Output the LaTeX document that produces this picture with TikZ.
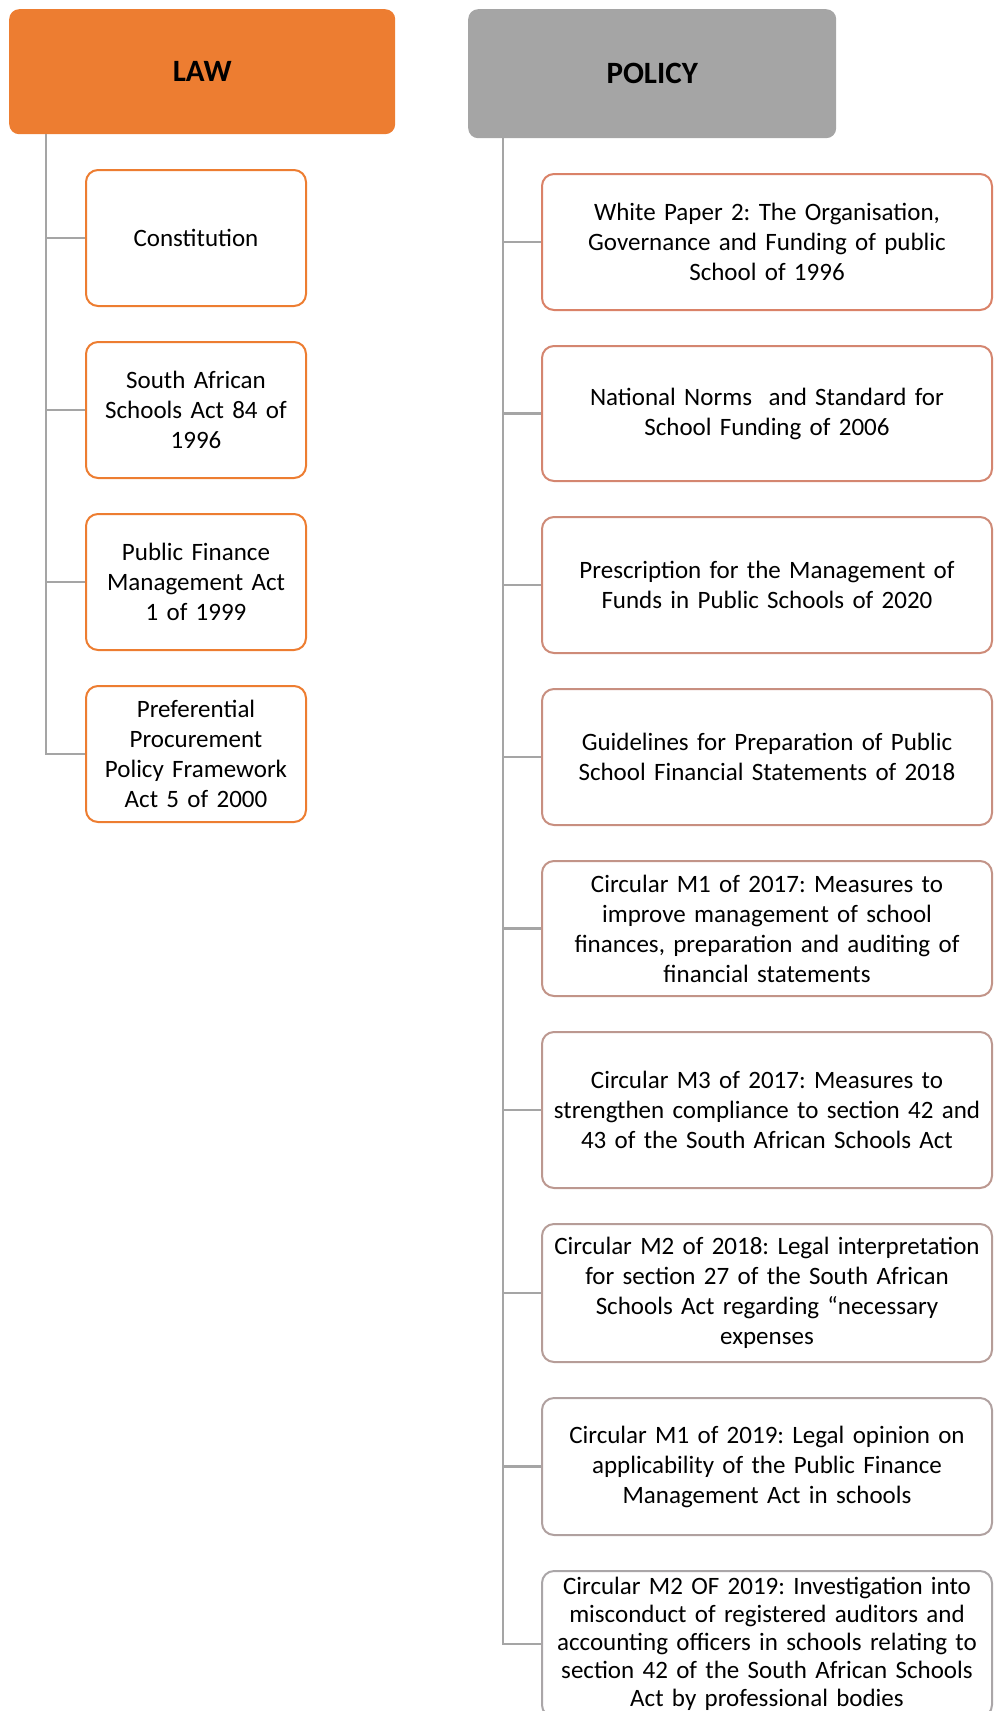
\documentclass[tikz,border=0pt]{standalone}
\usepackage{fontspec}
\setmainfont{Carlito}
\usepackage{tikz}
\usetikzlibrary{positioning}
\definecolor{laworange}{RGB}{237,125,49}
\definecolor{polgrey}{RGB}{165,165,165}
\definecolor{polfirst}{RGB}{218,130,104}
\definecolor{pollast}{RGB}{170,166,168}
\frenchspacing
\tikzset{
	x=1pt, y=1pt, % Un punto por pixel
	node distance=34pt, % Separacion entre cajas
	header/.style={rectangle, rounded corners=10pt, inner sep=0pt, font=\fontsize{31}{36}\selectfont\bfseries}, % Cabeceras
	item/.style={rectangle, draw, line width=2pt, rounded corners=12pt, fill=white, inner sep=0pt, align=center, font=\fontsize{25}{30}\selectfont}, % Cajas
	lawitem/.style={item, draw=laworange, minimum width=220pt, text width=210pt, minimum height=136pt}, % Cajas de leyes
	politem/.style={item, minimum width=450pt, text width=448pt}, % Cajas de politicas
	trunk/.style={draw=polgrey, line width=2.5pt} % Lineas del arbol
}

\begin{document}
\begin{tikzpicture}
	\useasboundingbox (0,0) rectangle (995,-1711);
	% Cabeceras
	\node[header, fill=laworange, minimum width=386pt, minimum height=125pt, anchor=north west] (law) at (9,-9) {LAW};
	\node[header, fill=polgrey, minimum width=368pt, minimum height=129pt, anchor=north west] (policy) at (468,-9) {POLICY};
	% Leyes
	\node[lawitem, anchor=north west] (l1) at (85,-169) {Constitution};
	\node[lawitem, below=of l1] (l2) {South African\\Schools Act 84 of\\1996};
	\node[lawitem, below=of l2] (l3) {Public Finance\\Management Act\\1 of 1999};
	\node[lawitem, below=of l3] (l4) {Preferential\\Procurement\\Policy Framework\\Act 5 of 2000};
	% Politicas
	\node[politem, draw=polfirst, minimum height=136pt, anchor=north west] (p1) at (541,-173) {White Paper 2: The Organisation,\\Governance and Funding of public\\School of 1996};
	\node[politem, draw=pollast!12!polfirst, minimum height=135pt, below=of p1] (p2) {National Norms\ \ and Standard for\\School Funding of 2006};
	\node[politem, draw=pollast!25!polfirst, minimum height=136pt, below=of p2] (p3) {Prescription for the Management of\\Funds in Public Schools of 2020};
	\node[politem, draw=pollast!37!polfirst, minimum height=136pt, below=of p3] (p4) {Guidelines for Preparation of Public\\School Financial Statements of 2018};
	\node[politem, draw=pollast!50!polfirst, minimum height=135pt, below=of p4] (p5) {Circular M1 of 2017: Measures to\\improve management of school\\finances, preparation and auditing of\\financial statements};
	\node[politem, draw=pollast!62!polfirst, minimum height=156pt, below=of p5] (p6) {Circular M3 of 2017: Measures to\\strengthen compliance to section 42 and\\43 of the South African Schools Act};
	\node[politem, draw=pollast!75!polfirst, minimum height=138pt, below=of p6] (p7) {Circular M2 of 2018: Legal interpretation\\for section 27 of the South African\\Schools Act regarding “necessary\\expenses};
	\node[politem, draw=pollast!87!polfirst, minimum height=137pt, below=of p7] (p8) {Circular M1 of 2019: Legal opinion on\\applicability of the Public Finance\\Management Act in schools};
	\node[politem, draw=pollast, minimum height=146pt, font=\fontsize{25}{28}\selectfont, below=of p8] (p9) {Circular M2 OF 2019: Investigation into\\misconduct of registered auditors and\\accounting officers in schools relating to\\section 42 of the South African Schools\\Act by professional bodies};
	% Troncos
	\coordinate (lt) at ([xshift=37pt]law.south west);
	\coordinate (pt) at ([xshift=35pt]policy.south west);
	\draw[trunk] (lt) |- (l4.west);
	\draw[trunk] (pt) |- (p9.west);
	\draw[trunk]	(lt |- l1.west) -- (l1.west)
			(lt |- l2.west) -- (l2.west)
			(lt |- l3.west) -- (l3.west)
			(pt |- p1.west) -- (p1.west)
			(pt |- p2.west) -- (p2.west)
			(pt |- p3.west) -- (p3.west)
			(pt |- p4.west) -- (p4.west)
			(pt |- p5.west) -- (p5.west)
			(pt |- p6.west) -- (p6.west)
			(pt |- p7.west) -- (p7.west)
			(pt |- p8.west) -- (p8.west)
			;
\end{tikzpicture}
\end{document}
